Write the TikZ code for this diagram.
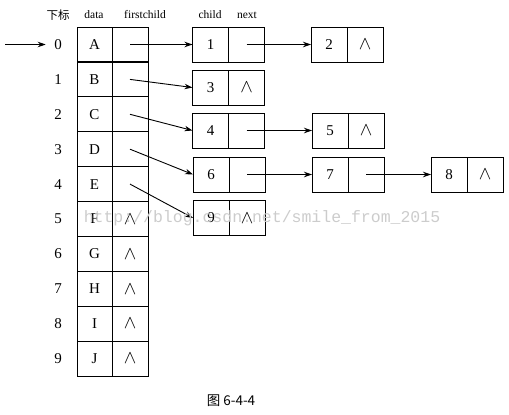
\documentclass[tikz,border=0pt]{standalone}
\usepackage{fontspec}
\setmainfont{Liberation Serif}
\newfontfamily\cjk{Noto Sans CJK SC}
\newfontfamily\wmfont{Liberation Mono}
\usetikzlibrary{positioning, arrows.meta}
\tikzstyle{cell} = [rectangle, draw=black, line width=1pt, minimum width=36pt, minimum height=35pt, inner sep=0pt, outer sep=0pt, font=\fontsize{15}{18}\selectfont]
\tikzstyle{idx} = [font=\fontsize{15}{18}\selectfont]
\tikzstyle{head} = [font=\fontsize{11.5}{13}\selectfont]
\tikzstyle{arrow} = [line width=0.9pt, -{Stealth[length=8pt, width=5.5pt]}]
\newcommand{\nullp}{\scalebox{1.3}{$\wedge$}}

\begin{document}
\begin{tikzpicture}[x=1pt, y=-1pt]
    \useasboundingbox (0,0) rectangle (509,415);

    % column headers
    \node (hidx) [head] at (58,15) {\cjk 下标};
    \node (hdata) [head] at (94,15) {data};
    \node (hfirst) [head] at (145,15) {firstchild};
    \node (hchild) [head] at (210,15) {child};
    \node (hnext) [head] at (247,15) {next};

    % head table
    \foreach \ch [count=\i from 0] in {A,B,C,D,E,F,G,H,I,J} {
        \node (i\i) [idx] at (58,44.5+34.9*\i) {\i};
        \node (d\i) [cell, minimum width=35pt] at (94.5,44.5+34.9*\i) {\ch};
        \node (f\i) [cell, right=0pt of d\i] {\ifnum\i>4 \nullp\fi};
    }

    % child lists
    \node (c1) [cell] at (210.5,44.5) {1};
    \node (n1) [cell, right=0pt of c1] {};
    \node (c2) [cell] at (329,44.5) {2};
    \node (n2) [cell, right=0pt of c2] {\nullp};
    \node (c3) [cell] at (210.5,87.5) {3};
    \node (n3) [cell, right=0pt of c3] {\nullp};
    \node (c4) [cell] at (210.5,130.5) {4};
    \node (n4) [cell, right=0pt of c4] {};
    \node (c5) [cell] at (330,130.5) {5};
    \node (n5) [cell, right=0pt of c5] {\nullp};
    \node (c6) [cell] at (211,174.5) {6};
    \node (n6) [cell, right=0pt of c6] {};
    \node (c7) [cell] at (330,174.5) {7};
    \node (n7) [cell, right=0pt of c7] {};
    \node (c8) [cell] at (449,174.5) {8};
    \node (n8) [cell, right=0pt of c8] {\nullp};
    \node (c9) [cell] at (211,218) {9};
    \node (n9) [cell, right=0pt of c9] {\nullp};

    \coordinate (start) at (5,44.5);
    \draw [arrow] (start) -- ([xshift=-5pt]i0.west);

    \draw [arrow] (f0.center) -- (c1.west);
    \draw [arrow] (f1.center) -- (c3.west);
    \draw [arrow] (f2.center) -- (c4.west);
    \draw [arrow] (f3.center) -- (c6.west);
    \draw [arrow] (f4.center) -- (c9.west);
    \draw [arrow] (n1.center) -- (c2.west);
    \draw [arrow] (n4.center) -- (c5.west);
    \draw [arrow] (n6.center) -- (c7.west);
    \draw [arrow] (n7.center) -- (c8.west);

    % watermark and caption
    \node (wm) [text=gray!40, font=\wmfont\fontsize{16.5}{18}\selectfont] at (262,218) {http://blog.csdn.net/smile\_from\_2015};
    \node (cap) [font=\cjk\fontsize{13.5}{16}\selectfont] at (231,401) {图 6-4-4};

\end{tikzpicture}
\end{document}
